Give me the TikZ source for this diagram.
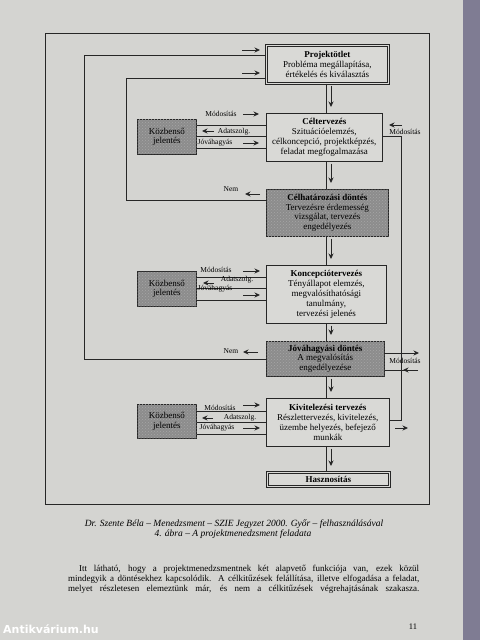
\documentclass[tikz,border=0pt]{standalone}
\usepackage{fontspec}
\setmainfont{Liberation Serif}
\newfontfamily\wmfont{DejaVu Sans}
\usetikzlibrary{arrows.meta,patterns,calc}
\definecolor{pagebg}{HTML}{D4D4D1}
\definecolor{boxfill}{HTML}{D9D9D6}
\definecolor{edgecol}{HTML}{7F7C93}
\tikzset{
  ln/.style={draw=black!85, line width=0.6pt},
  arr/.style={draw=black!85, line width=0.8pt, -{Stealth[length=5.5pt,width=5pt]}},
  mainbox/.style={ln, fill=boxfill, anchor=north west, inner sep=0pt, align=center,
    font=\fontsize{9}{9.8}\selectfont},
  graybox/.style={mainbox, fill=black!45,
    postaction={pattern=crosshatch dots, pattern color=white!65!black}},
  dblbox/.style={mainbox, double=boxfill, double distance=1.2pt, line width=0.7pt},
  lbl/.style={font=\fontsize{7.5}{8}\selectfont, inner sep=0pt},
}
\begin{document}
\begin{tikzpicture}[x=1pt,y=-1pt]
\useasboundingbox (0,0) rectangle (480,640);
\fill[pagebg] (0,0) rectangle (480,640);
\fill[edgecol] (463,0) rectangle (480,640);

% outer frame
\draw[ln] (45,33) rectangle (429,504);

% main column
\node[dblbox, minimum width=122pt, minimum height=38pt] (P) at (266,45)
  {\textbf{Projektötlet}\\Probléma megállapítása,\\értékelés és kiválasztás};
\node[mainbox, minimum width=116pt, minimum height=48pt] (C) at (266,113)
  {\textbf{Céltervezés}\\Szituációelemzés,\\célkoncepció, projektképzés,\\feladat megfogalmazása};
\node[graybox, minimum width=122pt, minimum height=47pt] (D1) at (266,189)
  {\textbf{Célhatározási döntés}\\Tervezésre érdemesség\\vizsgálat, tervezés\\engedélyezés};
\node[mainbox, minimum width=120pt, minimum height=58pt] (K) at (266,265)
  {\textbf{Koncepciótervezés}\\Tényállapot elemzés,\\megvalósíthatósági\\tanulmány,\\tervezési jelenés};
\node[graybox, minimum width=118pt, minimum height=35pt] (D2) at (266,341)
  {\textbf{Jóváhagyási döntés}\\A megvalósítás\\engedélyezése};
\node[mainbox, minimum width=123pt, minimum height=48pt] (V) at (266,398)
  {\textbf{Kivitelezési tervezés}\\Részlettervezés, kivitelezés,\\üzembe helyezés, befejező\\munkák};
\node[dblbox, minimum width=122pt, minimum height=14pt] (H) at (267,472)
  {\textbf{Hasznosítás}};

% Közbenső jelentés boxes
\node[graybox, minimum width=59pt, minimum height=35pt] (J1) at (137,119) {Közbenső\\jelentés};
\node[graybox, minimum width=59pt, minimum height=35pt] (J2) at (137,271) {Közbenső\\jelentés};
\node[graybox, minimum width=59pt, minimum height=34pt] (J3) at (137,404) {Közbenső\\jelentés};

% main flow
\coordinate (sp) at (326,0);
\foreach \a/\b in {P/C, C/D1, D1/K, K/D2, D2/V, V/H}{
  \draw[ln] (\a.south -| sp) -- (\b.north -| sp);
  \draw[arr] ($(\a.south -| sp)+(5,2)$) -- ($(\b.north -| sp)+(5,-6)$);
}

% links Közbenső <-> main boxes
\foreach \j/\m/\o in {J1/C/6, J2/K/6, J3/V/7}{
  \path ($(\j.north east)+(0,\o)$) coordinate (\j-a)
        ($(\j.north east)+(0,\o+11.5)$) coordinate (\j-b)
        ($(\j.north east)+(0,\o+23)$) coordinate (\j-c);
  \draw[ln] (\j-a) -- (\j-a -| \m.west);
  \draw[ln] (\j-b) -- (\j-b -| \m.west);
  \draw[ln] (\j-c) -- (\j-c -| \m.west);
}
% group 1 labels
\node[lbl] at (221,114) {Módosítás};
\draw[arr] (243,114) -- (259,114);
\node[lbl] at (234,132) {Adatszolg.};
\draw[arr] (214,131) -- (202,131);
\node[lbl] at (215,143) {Jóváhagyás};
\draw[arr] (243,143) -- (259,143);
% group 2 labels
\node[lbl] at (216,270) {Módosítás};
\draw[arr] (243,271) -- (260,271);
\node[lbl] at (237,280) {Adatszolg.};
\draw[arr] (214,283) -- (203,283);
\node[lbl] at (215,289) {Jóváhagyás};
\draw[arr] (243,295) -- (260,295);
% group 3 labels
\node[lbl] at (220,408) {Módosítás};
\draw[arr] (243,405) -- (260,405);
\node[lbl] at (240,418) {Adatszolg.};
\draw[arr] (213,418) -- (202,418);
\node[lbl] at (217,428) {Jóváhagyás};
\draw[arr] (243,428) -- (260,428);

% left loops
\draw[ln] (P.west |- 0,55) -- (84,55) -- (84,359) -- (D2.west |- 0,359);
\draw[ln] (P.west |- 0,78) -- (126,78) -- (126,200) -- (D1.west |- 0,200);
\draw[arr] (242,50) -- (260,50);
\draw[arr] (242,73) -- (260,73);
\node[lbl] at (231,189) {Nem};
\draw[arr] (260,194) -- (245,194);
\node[lbl] at (231,351) {Nem};
\draw[arr] (258,352) -- (243,352);

% right side
\draw[ln] (C.east |- 0,136) -- (401,136) -- (401,420) -- (V.east |- 0,420);
\node[lbl] at (405,132) {Módosítás};
\draw[arr] (402,125) -- (389,125);
\draw[ln] (D2.east |- 0,353) -- (412,353);
\draw[arr] (410,353) -- (419,353);
\node[lbl] at (405,361) {Módosítás};
\draw[ln] (418,370) -- (D2.east |- 0,370);
\draw[arr] (412,370) -- (403,370);
\draw[arr] (395,428) -- (408,428);

% caption
\node[font=\fontsize{9.5}{10}\selectfont\itshape, inner sep=0pt] (cap1) at (234,524)
  {Dr. Szente Béla -- Menedzsment -- SZIE Jegyzet 2000. Győr -- felhasználásával};
\node[font=\fontsize{9.5}{10}\selectfont\itshape, inner sep=0pt] (cap2) at (233,534)
  {4. ábra -- A projektmenedzsment feladata};

% paragraph
\node[anchor=west, inner sep=0pt, font=\fontsize{9}{10}\selectfont] (par1) at (79,569)
  {\makebox[340pt][s]{Itt látható, hogy a projektmenedzsmentnek két alapvető funkciója van, ezek közül}};
\node[anchor=west, inner sep=0pt, font=\fontsize{9}{10}\selectfont] (par2) at (68,579)
  {\makebox[351pt][s]{mindegyik a döntésekhez kapcsolódik. A célkitűzések felállítása, illetve elfogadása a feladat,}};
\node[anchor=west, inner sep=0pt, font=\fontsize{9}{10}\selectfont] (par3) at (68,589)
  {\makebox[351pt][s]{melyet részletesen elemeztünk már, és nem a célkitűzések végrehajtásának szakasza.}};

% page number
\node[font=\fontsize{8.5}{9}\selectfont, inner sep=0pt] (pg) at (413,627) {11};

% watermark
\node[anchor=west, inner sep=0pt, text=white, font=\wmfont\bfseries\fontsize{11}{11}\selectfont] (wm) at (3,629) {Antikvárium.hu};
\end{tikzpicture}
\end{document}
